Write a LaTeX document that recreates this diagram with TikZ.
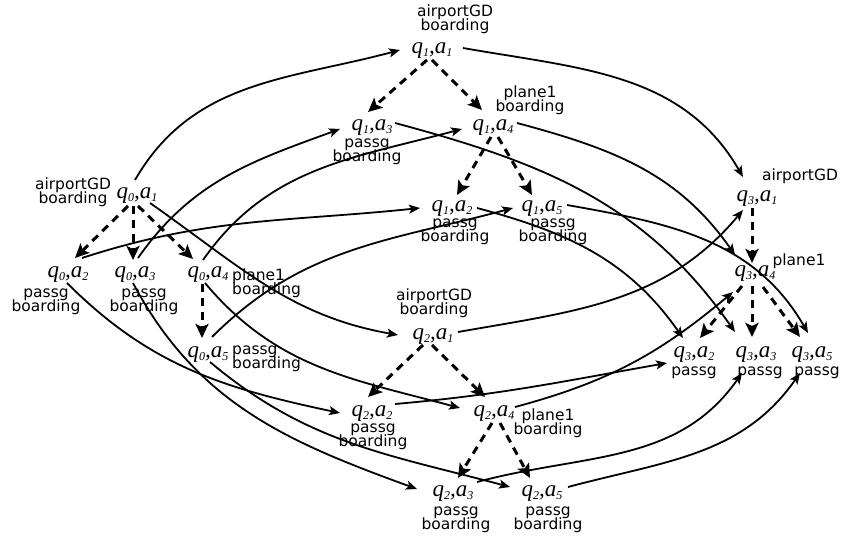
\documentclass[tikz,border=0pt]{standalone}
\usepackage{fontspec}
\usetikzlibrary{arrows.meta}
\newfontfamily\stfont{Liberation Serif}
\newfontfamily\lblfont{DejaVu Sans}
% state pair q_i,a_j in italic serif with small lowered indices
\newcommand\qa[2]{{\stfont\itshape\fontsize{23}{23}\selectfont q\raisebox{-3pt}{\fontsize{12}{12}\selectfont#1},a\raisebox{-3pt}{\fontsize{12}{12}\selectfont#2}}}
\newcommand\lstrut{\rule[-3.5pt]{0pt}{12pt}}
\newcommand\lblsize{\lblfont\fontsize{15.5}{14.5}\selectfont}

\begin{document}
\lineskiplimit=-20pt
\begin{tikzpicture}[x=1pt,y=1pt,
  st/.style={inner sep=0pt, anchor=base},
  lbl/.style={inner sep=0pt, anchor=north, align=center, font=\lblsize},
  lbll/.style={lbl, anchor=north west, align=left},
  dasharrow/.style={line width=3pt, dash pattern=on 8pt off 6pt,
    -{Stealth[length=14pt,width=13pt,inset=3pt]}},
  trans/.style={line width=1.8pt, -{Stealth[length=11pt,width=9pt,inset=2.5pt]}},
]
\useasboundingbox (0,0) rectangle (841,543);

% states of q0
\node[st] (q0a1) at (137,344) {\qa01};
\node[st] (q0a2) at (68,265)  {\qa02};
\node[st] (q0a3) at (135,265) {\qa03};
\node[st] (q0a4) at (208,265) {\qa04};
\node[st] (q0a5) at (208,185) {\qa05};
% states of q1
\node[st] (q1a1) at (432,489) {\qa11};
\node[st] (q1a3) at (372,412) {\qa13};
\node[st] (q1a4) at (493,412) {\qa14};
\node[st] (q1a2) at (452,331) {\qa12};
\node[st] (q1a5) at (542,331) {\qa15};
% states of q3
\node[st] (q3a1) at (757,341) {\qa31};
\node[st] (q3a4) at (755,266) {\qa34};
\node[st] (q3a2) at (694,185) {\qa32};
\node[st] (q3a3) at (756,185) {\qa33};
\node[st] (q3a5) at (812,185) {\qa35};
% states of q2
\node[st] (q2a1) at (433,203) {\qa21};
\node[st] (q2a2) at (372,126) {\qa22};
\node[st] (q2a4) at (494,126) {\qa24};
\node[st] (q2a3) at (453,46)  {\qa23};
\node[st] (q2a5) at (542,46)  {\qa25};

% labels
\node[lbl]  (l01) at (73,365.8)  {\lstrut airportGD\\\lstrut boarding};
\node[lbl]  (l02) at (46,254.5)  {\lstrut passg\\\lstrut boarding};
\node[lbl]  (l03) at (144,254.5) {\lstrut passg\\\lstrut boarding};
\node[lbll] (l04) at (232,274.8) {\lstrut plane1\\\lstrut boarding};
\node[lbll] (l05) at (232,197.5) {\lstrut passg\\\lstrut boarding};
\node[lbl]  (l11) at (455,538.8) {\lstrut airportGD\\\lstrut boarding};
\node[lbl]  (l13) at (367,404.5) {\lstrut passg\\\lstrut boarding};
\node[lbl]  (l14) at (530,457.8) {\lstrut plane1\\\lstrut boarding};
\node[lbl]  (l12) at (455,324.5) {\lstrut passg\\\lstrut boarding};
\node[lbl]  (l15) at (553,324.5) {\lstrut passg\\\lstrut boarding};
\node[lbl]  (l31) at (800,374.8) {\lstrut airportGD};
\node[lbl]  (l34) at (799,289.8) {\lstrut plane1};
\node[lbl]  (l32) at (694,176.5) {\lstrut passg};
\node[lbl]  (l33) at (760,176.5) {\lstrut passg};
\node[lbl]  (l35) at (817,176.5) {\lstrut passg};
\node[lbl]  (l21) at (434,254.8) {\lstrut airportGD\\\lstrut boarding};
\node[lbl]  (l22) at (373,119.5) {\lstrut passg\\\lstrut boarding};
\node[lbl]  (l24) at (548,134.8) {\lstrut plane1\\\lstrut boarding};
\node[lbl]  (l23) at (456,36.5)  {\lstrut passg\\\lstrut boarding};
\node[lbl]  (l25) at (548,36.5)  {\lstrut passg\\\lstrut boarding};

% internal steps (dashed)
\draw[dasharrow] ([shift={(-9,-7)}]q0a1.base) -- ([shift={(7,20)}]q0a2.base);
\draw[dasharrow] ([shift={(-4,-7)}]q0a1.base) -- ([shift={(-2,18)}]q0a3.base);
\draw[dasharrow] ([shift={(1,-7)}]q0a1.base) -- ([shift={(-15,19)}]q0a4.base);
\draw[dasharrow] ([shift={(-6,-6)}]q0a4.base) -- ([shift={(-6,20)}]q0a5.base);
\draw[dasharrow] ([shift={(-5,-6)}]q1a1.base) -- ([shift={(-4,19)}]q1a3.base);
\draw[dasharrow] ([shift={(0,-6)}]q1a1.base) -- ([shift={(-11,21)}]q1a4.base);
\draw[dasharrow] ([shift={(-2,-6)}]q1a4.base) -- ([shift={(5,17)}]q1a2.base);
\draw[dasharrow] ([shift={(5,-6)}]q1a4.base) -- ([shift={(-10,17)}]q1a5.base);
\draw[dasharrow] ([shift={(-5,-6)}]q3a1.base) -- ([shift={(-3,14)}]q3a4.base);
\draw[dasharrow] ([shift={(-13,-9)}]q3a4.base) -- ([shift={(6,20)}]q3a2.base);
\draw[dasharrow] ([shift={(-3,-9)}]q3a4.base) -- ([shift={(-4,21)}]q3a3.base);
\draw[dasharrow] ([shift={(8,-10)}]q3a4.base) -- ([shift={(-12,21)}]q3a5.base);
\draw[dasharrow] ([shift={(-10,-5)}]q2a1.base) -- ([shift={(-4,20)}]q2a2.base);
\draw[dasharrow] ([shift={(-1,-5)}]q2a1.base) -- ([shift={(-9,20)}]q2a4.base);
\draw[dasharrow] ([shift={(-2,-6)}]q2a4.base) -- ([shift={(5,19)}]q2a3.base);
\draw[dasharrow] ([shift={(6,-6)}]q2a4.base) -- ([shift={(-12,19)}]q2a5.base);

% q0 -> q1
\draw[trans] ([shift={(-2,19)}]q0a1.base) to[out=60,in=195] ([shift={(-32,4)}]q1a1.base);
\draw[trans] ([shift={(14,20)}]q0a2.base) to[out=18,in=186] ([shift={(-32,4)}]q1a2.base);
\draw[trans] ([shift={(3,20)}]q0a3.base) to[out=55,in=200] ([shift={(-32,2)}]q1a3.base);
\draw[trans] ([shift={(-5,18)}]q0a4.base) to[out=55,in=195] ([shift={(-31,2)}]q1a4.base);
\draw[trans] ([shift={(4,21)}]q0a5.base) to[out=45,in=195] ([shift={(-29,4)}]q1a5.base);
% q0 -> q2
\draw[trans] ([shift={(13,-4)}]q0a1.base) to[out=-35,in=170] ([shift={(-35,5)}]q2a1.base);
\draw[trans] ([shift={(-1,-5)}]q0a2.base) to[out=-45,in=168] ([shift={(-32,4)}]q2a2.base);
\draw[trans] ([shift={(-2,-5)}]q0a3.base) to[out=-62,in=160] ([shift={(-36,8)}]q2a3.base);
\draw[trans] ([shift={(-3,-5)}]q0a4.base) to[out=-50,in=165] ([shift={(-34,9)}]q2a4.base);
\draw[trans] ([shift={(2,-4)}]q0a5.base) to[out=-40,in=165] ([shift={(-32,10)}]q2a5.base);
% q1 -> q3
\draw[trans] ([shift={(31,6)}]q1a1.base) to[out=-10,in=120] ([shift={(-14,25)}]q3a1.base);
\draw[trans] ([shift={(23,8)}]q1a3.base) to[out=-15,in=125] ([shift={(-21,26)}]q3a3.base);
\draw[trans] ([shift={(24,8)}]q1a4.base) to[out=-15,in=125] ([shift={(-20,22)}]q3a4.base);
\draw[trans] ([shift={(25,4)}]q1a2.base) to[out=-15,in=125] ([shift={(-11,20)}]q3a2.base);
\draw[trans] ([shift={(25,7)}]q1a5.base) to[out=-10,in=120] ([shift={(-4,25)}]q3a5.base);
% q2 -> q3
\draw[trans] ([shift={(25,8)}]q2a1.base) to[out=10,in=230] ([shift={(-14,-8)}]q3a1.base);
\draw[trans] ([shift={(23,13)}]q2a2.base) to[out=5,in=190] ([shift={(-27,-5)}]q3a2.base);
\draw[trans] ([shift={(21,10)}]q2a4.base) to[out=15,in=220] ([shift={(-22,-15)}]q3a4.base);
\draw[trans] ([shift={(24,15)}]q2a3.base) to[out=15,in=235] ([shift={(-14,-15)}]q3a3.base);
\draw[trans] ([shift={(26,10)}]q2a5.base) to[out=15,in=235] ([shift={(-12,-15)}]q3a5.base);
\end{tikzpicture}
\end{document}
